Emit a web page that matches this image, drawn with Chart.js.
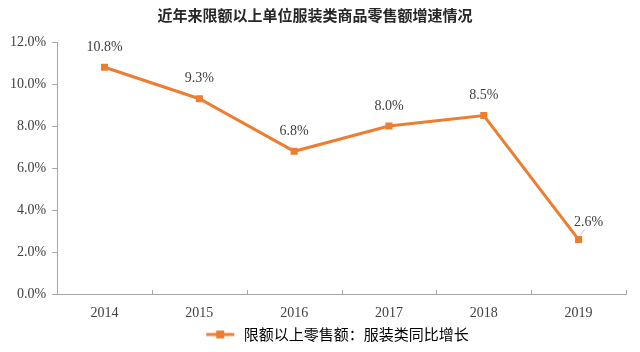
<!DOCTYPE html>
<html>
<head>
<meta charset="utf-8">
<script src="https://cdn.jsdelivr.net/npm/chart.js@4/dist/chart.umd.min.js"></script>
<style>
  html, body { margin: 0; padding: 0; background: #fff; }
  #wrap { width: 640px; height: 352px; }
</style>
</head>
<body>
<div id="wrap"><canvas id="c"></canvas></div>
<script>
const years = ['2014', '2015', '2016', '2017', '2018', '2019'];
const growth = [10.8, 9.3, 6.8, 8.0, 8.5, 2.6];
const seriesName = '限额以上零售额：服装类同比增长';
const titleText = '近年来限额以上单位服装类商品零售额增速情况';

const orange = '#ED7D31';
const axisGray = '#a6a6a6';
const serif = "'Liberation Serif', 'DejaVu Serif', serif";
const cjk = "'Noto Sans CJK SC', 'Noto Sans', sans-serif";

// 图例标记：线 + 方块（左侧留白，让图例整体偏右）
const markW = 75;
const legendMark = document.createElement('canvas');
legendMark.width = markW;
legendMark.height = 10;
(function () {
  const g = legendMark.getContext('2d');
  g.strokeStyle = orange;
  g.lineWidth = 3;
  g.beginPath();
  g.moveTo(markW - 30, 5);
  g.lineTo(markW - 2, 5);
  g.stroke();
  g.fillStyle = orange;
  g.fillRect(markW - 20, 1, 8, 8);
})();

// 数据标签
const valueLabels = {
  id: 'valueLabels',
  afterDatasetsDraw(chart) {
    const ctx = chart.ctx;
    const meta = chart.getDatasetMeta(0);
    ctx.save();
    ctx.font = '14px ' + serif;
    ctx.fillStyle = '#404040';
    ctx.textAlign = 'center';
    ctx.textBaseline = 'middle';
    meta.data.forEach((pt, i) => {
      const txt = growth[i].toFixed(1) + '%';
      if (i === growth.length - 1) {
        // 最后一个点：标签在右上方，带引导线
        ctx.strokeStyle = '#bfbfbf';
        ctx.lineWidth = 1;
        ctx.beginPath();
        ctx.moveTo(pt.x + 2, pt.y - 5);
        ctx.lineTo(pt.x + 6, pt.y - 10);
        ctx.stroke();
        ctx.fillText(txt, pt.x + 10, pt.y - 17);
      } else {
        ctx.fillText(txt, pt.x, pt.y - 20);
      }
    });
    ctx.restore();
  }
};

// x轴刻度线向上
const innerTicks = {
  id: 'innerTicks',
  afterDraw(chart) {
    const ctx = chart.ctx;
    const x = chart.scales.x;
    const step = (x.right - x.left) / years.length;
    ctx.save();
    ctx.strokeStyle = axisGray;
    ctx.lineWidth = 1;
    ctx.beginPath();
    for (let i = 1; i <= years.length; i++) {
      const px = Math.round(x.left + step * i) + 0.5;
      ctx.moveTo(px, x.top);
      ctx.lineTo(px, x.top - 4);
    }
    ctx.stroke();
    ctx.restore();
  }
};

new Chart(document.getElementById('c'), {
  type: 'line',
  data: {
    labels: years,
    datasets: [{
      label: seriesName,
      data: growth,
      borderColor: orange,
      backgroundColor: orange,
      borderWidth: 3,
      pointStyle: 'rect',
      pointRadius: 5,
      pointBorderWidth: 0,
      tension: 0,
      fill: false
    }]
  },
  options: {
    responsive: true,
    maintainAspectRatio: false,
    animation: false,
    layout: { padding: { left: 4, right: 14, top: 0, bottom: 0 } },
    plugins: {
      title: {
        display: true,
        text: titleText,
        color: '#262626',
        font: { family: cjk, size: 15, weight: 'bold' },
        padding: { top: 6, bottom: 18 }
      },
      legend: {
        position: 'bottom',
        labels: {
          color: '#404040',
          font: { family: cjk, size: 15 },
          usePointStyle: true,
          pointStyleWidth: markW,
          padding: 2,
          generateLabels() {
            return [{
              text: seriesName,
              strokeStyle: orange,
              fillStyle: orange,
              lineWidth: 0,
              pointStyle: legendMark,
              datasetIndex: 0
            }];
          }
        }
      },
      tooltip: { enabled: false }
    },
    scales: {
      x: {
        offset: true,
        grid: {
          offset: true,
          display: false
        },
        border: { color: axisGray },
        ticks: {
          color: '#404040',
          font: { family: serif, size: 14 },
          padding: 3
        }
      },
      y: {
        min: 0,
        max: 12,
        grid: {
          drawOnChartArea: false,
          color: axisGray,
          tickLength: 5
        },
        border: { color: axisGray },
        ticks: {
          stepSize: 2,
          color: '#404040',
          font: { family: serif, size: 14 },
          padding: 6,
          callback: v => v.toFixed(1) + '%'
        }
      }
    }
  },
  plugins: [valueLabels, innerTicks]
});
</script>
</body>
</html>
